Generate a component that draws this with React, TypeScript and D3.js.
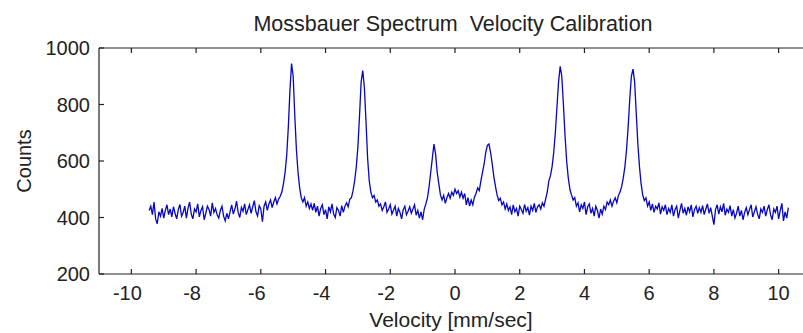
import React from "react";
import * as d3 from "d3";

const chartTitle = "Mossbauer Spectrum  Velocity Calibration";
const xLabel = "Velocity [mm/sec]";
const yLabel = "Counts";
const xTicks = [-10, -8, -6, -4, -2, 0, 2, 4, 6, 8, 10];
const yTicks = [200, 400, 600, 800, 1000];
const xDomain = [-11, 11];
const yDomain = [200, 1000];

// channel velocities: start + index * step (mm/sec)
const velocityStart = -9.45;
const velocityStep = 0.05;

// counts, one value per channel
const counts = [
  425,
  440, 410, 455, 395, 378, 420, 405, 432, 398, 425, 445, 410, 430, 402, 438, 415, 395, 428, 446, 405,
  418, 440, 398, 432, 455, 412, 395, 430, 420, 448, 402, 425, 438, 392, 415, 440, 428, 405, 452, 418,
  432, 410, 398, 425, 440, 405, 388, 415, 395, 420, 445, 412, 430, 458, 418, 400, 436, 422, 448, 410,
  428, 445, 415, 438, 460, 420, 405, 442, 430, 385, 440, 455, 425, 448, 462, 435, 455, 470, 448, 465,
  475, 490, 520, 560, 620, 720, 850, 945, 900, 760, 640, 560, 505, 470, 455, 470, 440, 455, 432, 448,
  425, 450, 418, 440, 405, 432, 445, 410, 428, 395, 438, 420, 448, 412, 400, 435, 425, 405, 442, 418,
  440, 452, 438, 465, 470, 495, 530, 580, 650, 760, 880, 920, 860, 740, 610, 530, 490, 470, 478, 455,
  462, 440, 448, 425, 438, 455, 418, 430, 445, 412, 426, 440, 405, 432, 418, 395, 428, 440, 410, 422,
  438, 415, 430, 445, 408, 425, 398, 420, 392, 430, 448, 470, 510, 560, 610, 660, 625, 560, 520, 480,
  462, 478, 450, 470, 485, 468, 490, 478, 500, 485, 495, 472, 490, 468, 485, 445, 470, 440, 462, 445,
  472, 485, 505, 495, 530, 560, 590, 630, 655, 660, 630, 590, 545, 510, 480, 460, 468, 445, 455, 430,
  448, 425, 438, 410, 445, 420, 432, 405, 440, 428, 415, 446, 422, 435, 408, 440, 425, 450, 418, 438,
  445, 430, 452, 440, 465, 490, 530, 548, 580, 630, 700, 790, 880, 935, 900, 800, 690, 600, 540, 500,
  480, 462, 470, 440, 452, 420, 445, 432, 455, 410, 438, 448, 415, 432, 405, 440, 425, 398, 430, 412,
  440, 428, 455, 445, 462, 440, 458, 470, 452, 478, 490, 510, 540, 580, 640, 720, 820, 900, 925, 880,
  770, 660, 580, 520, 480, 460, 470, 440, 455, 425, 448, 418, 440, 430, 452, 412, 438, 425, 445, 410,
  432, 418, 445, 405, 428, 440, 398, 425, 450, 415, 432, 408, 438, 420, 445, 402, 428, 440, 415, 435,
  418, 442, 410, 430, 448, 415, 435, 405, 375, 428, 445, 412, 438, 420, 450, 408, 430, 418, 442, 405,
  428, 398, 415, 440, 405, 425, 392, 418, 435, 410, 428, 445, 402, 420, 438, 412, 395, 430, 418, 440,
  405, 428, 445, 410, 392, 430, 418, 440, 395, 425, 450, 388, 420, 398, 435,
];

const W = 803;
const H = 333;
const FONT = "'Liberation Sans', Arial, sans-serif";

export default function App() {
  const x = d3.scaleLinear().domain(xDomain).range([99, 811]);
  const y = d3.scaleLinear().domain(yDomain).range([274, 48]);
  const data = counts.map((c, i) => [velocityStart + i * velocityStep, c] as [number, number]);
  const line = d3
    .line<[number, number]>()
    .x((d) => x(d[0]))
    .y((d) => y(d[1]));

  const left = x(xDomain[0]);
  const right = x(xDomain[1]);
  const top = y(yDomain[1]);
  const bottom = y(yDomain[0]);
  const tickLen = 5;

  return (
    <svg
      width={W}
      height={H}
      style={{ position: "absolute", left: 0, top: 0, background: "#fff" }}
    >
      <rect x={0} y={0} width={W} height={H} fill="#fff" />
      <path d={line(data) || ""} fill="none" stroke="#0606c4" strokeWidth={1.3} strokeLinejoin="miter" />
      {/* axes box */}
      <g stroke="#222" strokeWidth={1.2} fill="none">
        <line x1={left} y1={bottom} x2={right} y2={bottom} />
        <line x1={left} y1={top} x2={right} y2={top} />
        <line x1={left} y1={top} x2={left} y2={bottom} />
        <line x1={right} y1={top} x2={right} y2={bottom} />
        {xTicks.map((t) => (
          <g key={"xt" + t}>
            <line x1={x(t)} x2={x(t)} y1={bottom} y2={bottom - tickLen} />
            <line x1={x(t)} x2={x(t)} y1={top} y2={top + tickLen} />
          </g>
        ))}
        {yTicks.map((t) => (
          <g key={"yt" + t}>
            <line x1={left} x2={left + tickLen} y1={y(t)} y2={y(t)} />
            <line x1={right} x2={right - tickLen} y1={y(t)} y2={y(t)} />
          </g>
        ))}
      </g>
      <g fontFamily={FONT} fontSize={20} fill="#222">
        {xTicks.map((t) => (
          <text key={"xl" + t} x={x(t) - (t < 0 ? 4 : 0)} y={300} textAnchor="middle">
            {String(t)}
          </text>
        ))}
        {yTicks.map((t) => (
          <text key={"yl" + t} x={90} y={y(t)} dy="0.35em" textAnchor="end">
            {String(t)}
          </text>
        ))}
      </g>
      <text
        x={453}
        y={31}
        textAnchor="middle"
        fontFamily={FONT}
        fontSize={21.5}
        fill="#222"
        style={{ whiteSpace: "pre" }}
      >
        {chartTitle}
      </text>
      <text x={451} y={327} textAnchor="middle" fontFamily={FONT} fontSize={21} fill="#222">
        {xLabel}
      </text>
      <text
        transform={`translate(31,${(top + bottom) / 2}) rotate(-90)`}
        textAnchor="middle"
        fontFamily={FONT}
        fontSize={20}
        fill="#222"
      >
        {yLabel}
      </text>
    </svg>
  );
}
